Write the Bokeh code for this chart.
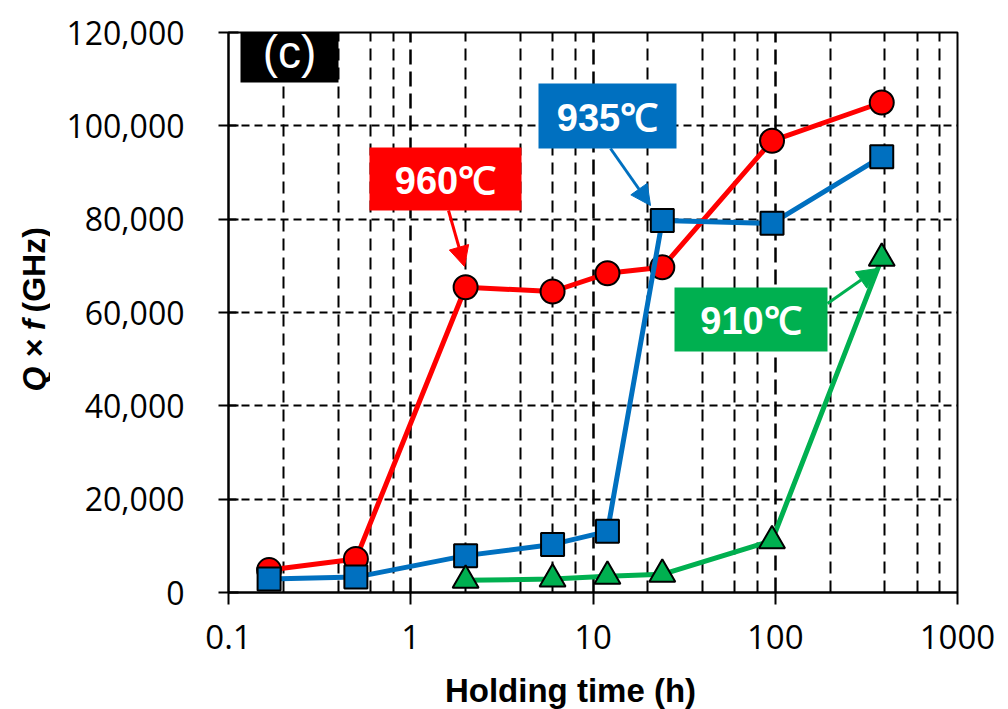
from math import pi
from bokeh.plotting import figure
from bokeh.layouts import row, column
from bokeh.models import (FixedTicker, Grid, Label, Arrow, NormalHead, Range1d,
                          NumeralTickFormatter, CustomJSTickFormatter)
from bokeh.embed import file_html
from bokeh.resources import INLINE

# ---------------- data ----------------
times_960 = [0.167, 0.5, 2, 6, 12, 24, 96, 384]
qf_960 = [4800, 7200, 65400, 64500, 68400, 69700, 96800, 105000]

times_935 = [0.167, 0.5, 2, 6, 12, 24, 96, 384]
qf_935 = [2900, 3300, 7900, 10300, 13100, 79700, 79100, 93400]

times_910 = [2, 6, 12, 24, 96, 384]
qf_910 = [2600, 2900, 3500, 3900, 11100, 71600]

x_ticks = [0.1, 1, 10, 100, 1000]
x_minor = [m * d for d in (0.1, 1, 10, 100) for m in (2, 4, 6, 8)]
y_ticks = [0, 20000, 40000, 60000, 80000, 100000, 120000]

RED, BLUE, GREEN = "#FF0000", "#0070C0", "#00B050"

# ---------------- layout helpers (reference page pixels -> data) ----------------
FL, FR, FT, FB = 228, 957, 32, 592
LEFT_W = 50
MAIN_W, MAIN_H = 950, 660
TOTAL_H = 709

def px2x(px):
    return 10 ** (-1 + (px - FL) / (FR - FL) * 4)
def px2y(py):
    return (FB - py) / (FB - FT) * 120000

p = figure(width=MAIN_W, height=MAIN_H, x_axis_type="log",
           x_range=(0.1, 1000), y_range=(0, 120000),
           output_backend="svg", toolbar_location=None,
           min_border_left=FL - LEFT_W, min_border_right=MAIN_W - (FL - LEFT_W) - (FR - FL),
           min_border_top=FT, min_border_bottom=MAIN_H - FB)
p.background_fill_color = "white"
p.border_fill_color = "white"
p.outline_line_color = "black"
p.outline_line_width = 2
p.grid.visible = False

# axes
xa = p.xaxis[0]
xa.ticker = FixedTicker(ticks=x_ticks, minor_ticks=[])
xa.formatter = CustomJSTickFormatter(code="return String(Number(tick.toPrecision(3)))")
xa.major_tick_in = 0
xa.major_tick_out = 12
xa.minor_tick_line_color = None
xa.axis_line_color = "black"
xa.axis_line_width = 2
xa.major_tick_line_width = 2
xa.major_label_text_font = "Open Sans"
xa.major_label_text_font_size = "33px"
xa.major_label_text_color = "black"
xa.major_label_standoff = 20

ya = p.yaxis[0]
ya.ticker = FixedTicker(ticks=y_ticks, minor_ticks=[])
ya.formatter = NumeralTickFormatter(format="0,0")
ya.major_tick_in = 10
ya.major_tick_out = 10
ya.minor_tick_line_color = None
ya.axis_line_color = "black"
ya.axis_line_width = 2
ya.major_tick_line_width = 2
ya.major_label_text_font = "Open Sans"
ya.major_label_text_font_size = "32px"
ya.major_label_text_color = "black"
ya.major_label_standoff = 34

# grids
p.add_layout(Grid(dimension=1, ticker=FixedTicker(ticks=y_ticks[1:-1]),
                  grid_line_color="black", grid_line_width=2, grid_line_dash="8 5"))
p.add_layout(Grid(dimension=0, ticker=FixedTicker(ticks=x_minor),
                  grid_line_color="black", grid_line_width=2, grid_line_dash="12 7"))
p.add_layout(Grid(dimension=0, ticker=FixedTicker(ticks=x_ticks[1:-1]),
                  grid_line_color="black", grid_line_width=2.5, grid_line_dash="15 7"))

# series
p.line(times_960, qf_960, line_color=RED, line_width=5)
p.scatter(times_960, qf_960, marker="circle", size=24, fill_color=RED,
          line_color="black", line_width=2)
p.line(times_935, qf_935, line_color=BLUE, line_width=5)
p.scatter(times_935, qf_935, marker="square", size=23, fill_color=BLUE,
          line_color="black", line_width=2)
p.line(times_910, qf_910, line_color=GREEN, line_width=5)
p.scatter(times_910, qf_910, marker="triangle", size=26, fill_color=GREEN,
          line_color="black", line_width=2)

# annotation boxes
def box(l, r, t, b, color, text, size, style, cx=None, cy=None):
    p.quad(left=[px2x(l)], right=[px2x(r)], top=[px2y(t)], bottom=[px2y(b)],
           fill_color=color, line_color=None)
    cx = (l + r) / 2 if cx is None else cx
    cy = (t + b) / 2 if cy is None else cy
    p.add_layout(Label(x=px2x(cx), y=px2y(cy), text=text, text_color="white",
                       text_font="Liberation Sans", text_font_size=size,
                       text_font_style=style, text_align="center",
                       text_baseline="middle"))

box(240, 338, 10, 82, "black", "(c)", "46px", "normal", cy=51)
box(369, 521, 147, 210, RED, "960℃", "38px", "bold", cy=180)
box(538, 676, 83, 148, BLUE, "935℃", "38px", "bold", cy=117)
box(674, 827, 287, 351, GREEN, "910℃", "38px", "bold", cy=320)

def arrow(x0, y0, x1, y1, color):
    p.add_layout(Arrow(end=NormalHead(size=20, fill_color=color, line_color=color),
                       x_start=px2x(x0), y_start=px2y(y0),
                       x_end=px2x(x1), y_end=px2y(y1),
                       line_color=color, line_width=3))

arrow(448, 210, 464, 266, RED)
arrow(610, 148, 650, 205, BLUE)
arrow(827, 303, 877, 268, GREEN)

def strip(w, h, xr, yr):
    f = figure(width=w, height=h, x_range=Range1d(*xr), y_range=Range1d(*yr),
               x_axis_location=None, y_axis_location=None,
               output_backend="svg", toolbar_location=None,
               min_border=0, min_border_left=0, min_border_right=0,
               min_border_top=0, min_border_bottom=0)
    f.outline_line_color = None
    f.grid.visible = False
    f.background_fill_color = "white"
    f.border_fill_color = "white"
    return f

# y-axis title (mixed italic / upright)
left = strip(LEFT_W, TOTAL_H, (0, LEFT_W), (TOTAL_H, 0))
left.add_layout(Label(x=33, y=391, text="Q × f", angle=pi / 2,
                      text_font="Liberation Sans", text_font_size="32px",
                      text_font_style="bold italic", text_align="left",
                      text_baseline="middle", text_color="black"))
left.add_layout(Label(x=33, y=312, text="(GHz)", angle=pi / 2,
                      text_font="Liberation Sans", text_font_size="32px",
                      text_font_style="bold", text_align="left",
                      text_baseline="middle", text_color="black"))

# x-axis title (strip frame is aligned with the main frame: FL..FR)
bottom = strip(MAIN_W, TOTAL_H - MAIN_H, (FL, FR), (TOTAL_H, MAIN_H))
bottom.add_layout(Label(x=570, y=690, text="Holding time (h)",
                        text_font="Liberation Sans", text_font_size="33px",
                        text_font_style="bold", text_align="center",
                        text_baseline="middle", text_color="black"))

layout = row(left, column(p, bottom, spacing=0), spacing=0)
open("out.html", "w").write(file_html(layout, INLINE))
